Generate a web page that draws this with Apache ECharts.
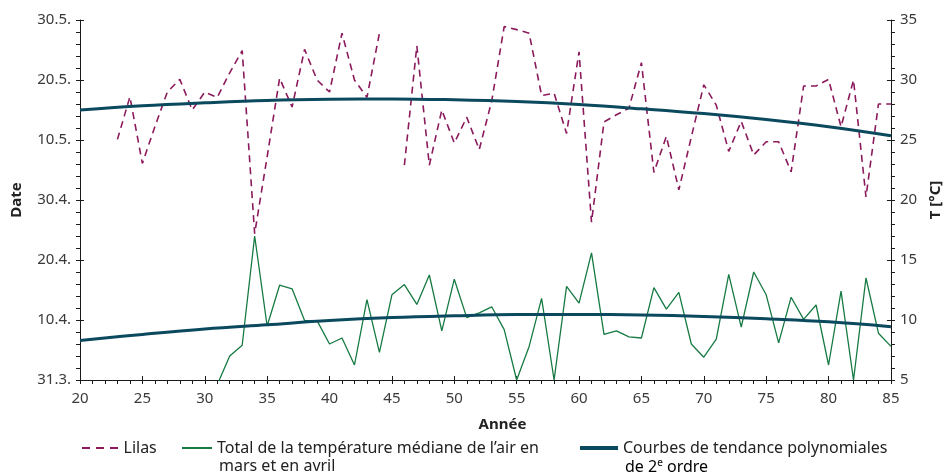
<!DOCTYPE html>
<html><head><meta charset="utf-8">
<script src="https://cdn.jsdelivr.net/npm/echarts@6/dist/echarts.min.js"></script>
<style>html,body{margin:0;padding:0;background:#fff}#c{width:951px;height:474px}</style>
</head><body><div id="c"></div>
<script>
// Years (x axis)
const years = [20,21,22,23,24,25,26,27,28,29,30,31,32,33,34,35,36,37,38,39,40,41,42,43,44,45,46,47,48,49,50,51,52,53,54,55,56,57,58,59,60,61,62,63,64,65,66,67,68,69,70,71,72,73,74,75,76,77,78,79,80,81,82,83,84,85];
// Lilac flowering date, in days after 31 March (left axis)
const lilas = [null,null,null,40.1,47.2,36.1,42.2,48.0,50.1,45.0,48.0,47.1,51.2,54.9,24.4,37.2,50.3,45.5,55.1,50.0,48.0,57.8,50.0,47.1,57.8,null,35.8,55.7,35.8,45.0,39.5,43.8,38.4,46.5,58.9,58.4,57.8,47.4,47.8,41.1,54.7,26.3,43.0,44.2,45.3,52.9,34.6,40.6,31.7,40.5,49.2,45.8,38.1,43.1,37.5,39.7,39.7,34.7,49.0,49.0,50.1,42.2,50.0,30.5,46.0,46.0];
// Sum of median air temperature March+April, °C (right axis)
const temperature = [null,null,null,null,null,null,null,null,null,null,null,4.6,7.0,7.9,17.0,9.5,12.9,12.6,9.95,9.95,8.0,8.5,6.25,11.7,7.3,12.1,12.95,11.3,13.75,9.1,13.4,10.2,10.6,11.1,9.2,5.0,7.8,11.8,5.0,12.8,11.4,15.6,8.8,9.1,8.6,8.5,12.7,10.9,12.3,8.0,6.9,8.4,13.8,9.4,14.0,12.1,8.1,11.9,10.05,11.25,6.25,12.4,5.0,13.5,8.9,7.8];
// Second-order polynomial trend curves, read every 5 years
const trendYears = [20,25,30,35,40,45,50,55,60,65,70,75,80,85];
const lilasTrend = [45.0,45.7,46.2,46.6,46.8,46.85,46.7,46.4,45.9,45.2,44.4,43.4,42.2,40.7];
const tempTrend = [8.3,8.8,9.25,9.6,9.95,10.2,10.35,10.45,10.46,10.42,10.3,10.1,9.85,9.44];
// Tick labels of the date axis
const dateLabels = ['31.3.','10.4.','20.4.','30.4.','10.5.','20.5.','30.5.'];

const nameLilas = 'Lilas';
const nameTemp = 'Total de la température médiane de l’air en';
const nameTrend = 'Courbes de tendance polynomiales';

const FONT = 'Noto Sans';
const pair = (xs, ys) => xs.map((x, i) => [x, ys[i]]);

const chart = echarts.init(document.getElementById('c'), null, {renderer: 'canvas'});
const axisCol = '#1a1a1a';
const labelStyle = {fontFamily: FONT, fontSize: 15, color: '#3a3a3a'};
const legendText = {fontFamily: FONT, fontSize: 16, color: '#222'};

chart.setOption({
  animation: false,
  textStyle: {fontFamily: FONT},
  grid: {left: 80, right: 52, top: 20, bottom: 94, containLabel: false},
  xAxis: [{
    type: 'value', min: 20, max: 85, interval: 5, position: 'bottom',
    axisLine: {show: true, lineStyle: {color: axisCol, width: 1}},
    axisTick: {show: true, length: 4, lineStyle: {color: axisCol}},
    minorTick: {show: true, splitNumber: 5, length: 4, lineStyle: {color: axisCol}},
    axisLabel: Object.assign({margin: 11}, labelStyle),
    splitLine: {show: false}, minorSplitLine: {show: false},
    name: 'Année', nameLocation: 'middle', nameGap: 37,
    nameTextStyle: {fontFamily: FONT, fontSize: 15, fontWeight: 'bold', color: '#222', padding: [0, 0, 0, 34]}
  }, {
    type: 'value', min: 20, max: 85, interval: 5, position: 'bottom',
    axisLine: {show: false}, axisTick: {show: true, inside: true, length: 4, lineStyle: {color: axisCol}},
    axisLabel: {show: false}, splitLine: {show: false}
  }],
  yAxis: [{
    type: 'value', min: 0, max: 60, interval: 10, position: 'left',
    axisLine: {show: true, lineStyle: {color: axisCol, width: 1}},
    axisTick: {show: true, length: 4, lineStyle: {color: axisCol}},
    minorTick: {show: true, splitNumber: 5, length: 4, lineStyle: {color: axisCol}},
    axisLabel: Object.assign({margin: 9, formatter: v => dateLabels[Math.round(v / 10)]}, labelStyle),
    splitLine: {show: false},
    name: 'Date', nameLocation: 'middle', nameRotate: 90, nameGap: 56,
    nameTextStyle: {fontFamily: FONT, fontSize: 15, fontWeight: 'bold', color: '#222'}
  }, {
    type: 'value', min: 5, max: 35, interval: 5, position: 'right',
    axisLine: {show: true, lineStyle: {color: axisCol, width: 1}},
    axisTick: {show: true, length: 4, lineStyle: {color: axisCol}},
    minorTick: {show: true, splitNumber: 5, length: 4, lineStyle: {color: axisCol}},
    axisLabel: Object.assign({margin: 9}, labelStyle),
    splitLine: {show: false},
    name: 'T [°C]', nameLocation: 'middle', nameRotate: 90, nameGap: 36,
    nameTextStyle: {fontFamily: FONT, fontSize: 15, fontWeight: 'bold', color: '#222'}
  }, {
    type: 'value', min: 0, max: 60, interval: 10, position: 'left',
    axisLine: {show: false}, axisTick: {show: true, inside: true, length: 4, lineStyle: {color: axisCol}},
    axisLabel: {show: false}, splitLine: {show: false}
  }, {
    type: 'value', min: 5, max: 35, interval: 5, position: 'right',
    axisLine: {show: false}, axisTick: {show: true, inside: true, length: 4, lineStyle: {color: axisCol}},
    axisLabel: {show: false}, splitLine: {show: false}
  }],
  legend: [{
    data: [nameLilas], left: 82, top: 440, padding: 0,
    itemWidth: 37, itemHeight: 2,
    icon: 'path://M0,0H8V2H0Z M14,0H22V2H14Z M28,0H36V2H28Z',
    textStyle: legendText
  }, {
    data: [nameTemp], left: 182, top: 440, padding: 0,
    itemWidth: 30, itemHeight: 2, icon: 'rect',
    textStyle: legendText
  }, {
    data: [nameTrend], left: 580, top: 440, padding: 0,
    itemWidth: 38, itemHeight: 4, icon: 'rect',
    textStyle: legendText
  }],
  graphic: [{
    type: 'text', left: 219, top: 458,
    style: {text: 'mars et en avril', font: '16px "Noto Sans"', fill: '#222'}
  }, {
    type: 'text', left: 625, top: 458,
    style: {
      text: '{a|de 2}{s|e}{a| ordre}',
      rich: {
        a: {fontFamily: FONT, fontSize: 16, color: '#222'},
        s: {fontFamily: FONT, fontSize: 10, color: '#222', padding: [0, 0, 8, 0]}
      }
    }
  }],
  series: [{
    name: nameLilas, type: 'line', xAxisIndex: 0, yAxisIndex: 0,
    data: pair(years, lilas), symbol: 'none', connectNulls: false,
    lineStyle: {color: '#8a1a5c', width: 1.6, type: [7, 5]},
    itemStyle: {color: '#8a1a5c'}, z: 2
  }, {
    name: nameTemp, type: 'line', xAxisIndex: 0, yAxisIndex: 1,
    data: pair(years, temperature), symbol: 'none', clip: true,
    lineStyle: {color: '#167a42', width: 1.3},
    itemStyle: {color: '#167a42'}, z: 2
  }, {
    name: nameTrend, type: 'line', xAxisIndex: 0, yAxisIndex: 0,
    data: pair(trendYears, lilasTrend), symbol: 'none', smooth: 0.4,
    lineStyle: {color: '#0b4a5e', width: 3},
    itemStyle: {color: '#0b4a5e'}, z: 3
  }, {
    name: nameTrend, type: 'line', xAxisIndex: 0, yAxisIndex: 1,
    data: pair(trendYears, tempTrend), symbol: 'none', smooth: 0.4,
    lineStyle: {color: '#0b4a5e', width: 3},
    itemStyle: {color: '#0b4a5e'}, z: 3
  }]
});
</script></body></html>
